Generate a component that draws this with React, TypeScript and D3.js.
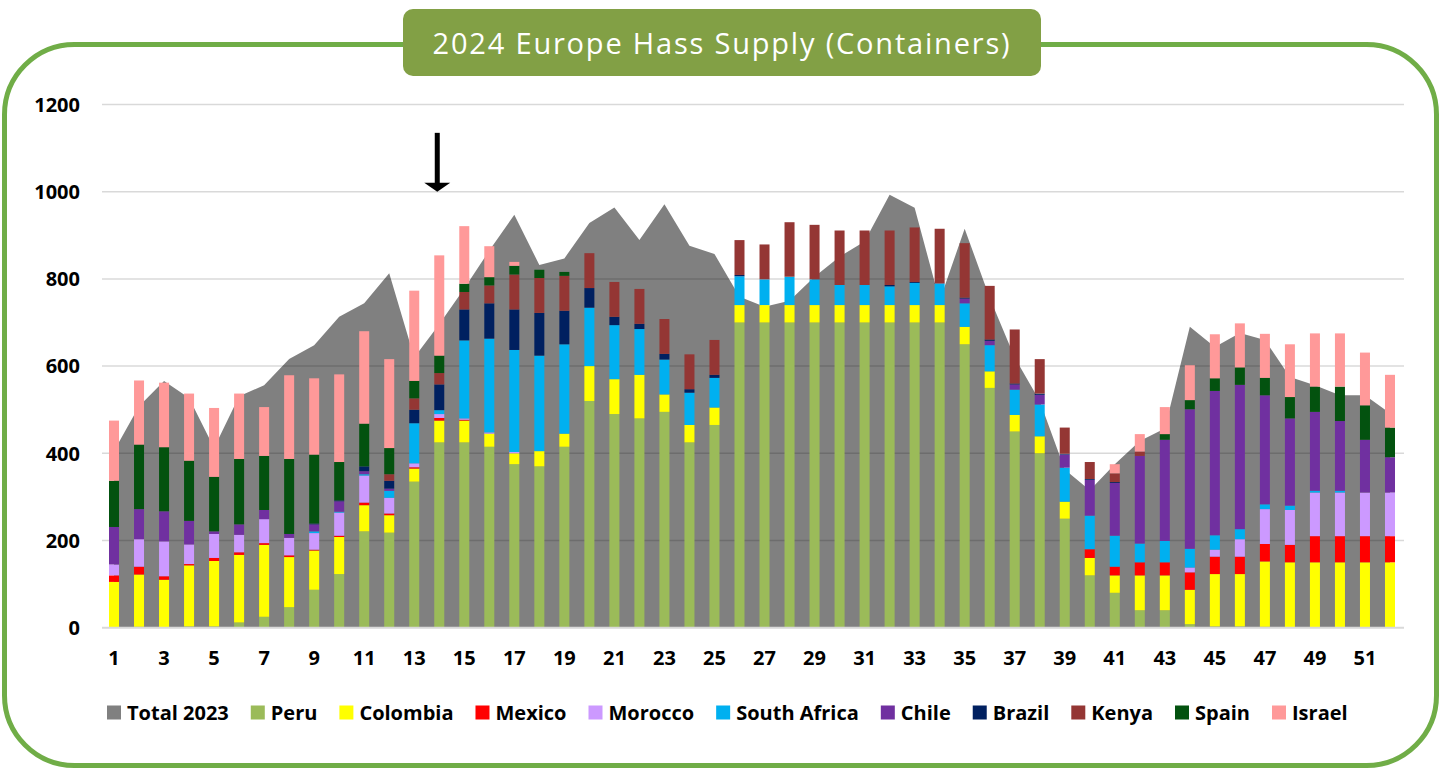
import React, { useRef, useEffect } from 'react';
import * as d3 from 'd3';

// weeks of the year
const weeks = [1, 2, 3, 4, 5, 6, 7, 8, 9, 10, 11, 12, 13, 14, 15, 16, 17, 18, 19, 20, 21, 22, 23, 24, 25, 26,
    27, 28, 29, 30, 31, 32, 33, 34, 35, 36, 37, 38, 39, 40, 41, 42, 43, 44, 45, 46, 47, 48, 49, 50, 51, 52];

// last year's total, drawn as the grey area
const total2023 = [405, 508, 566, 527, 412, 531, 556, 616, 648, 713, 744, 813, 620, 696, 778, 865, 947, 832, 847, 928,
    964, 889, 971, 876, 857, 759, 736, 750, 805, 851, 886, 993, 963, 750, 915, 757, 620, 520, 363, 315,
    375, 428, 457, 690, 644, 676, 660, 575, 556, 533, 533, 492];

// 2024 origins (containers per week)
const peru = [0, 2, 0, 3, 3, 12, 25, 47, 87, 123, 221, 218, 335, 425, 425, 415, 375, 370, 415, 520,
    490, 480, 495, 425, 465, 700, 700, 700, 700, 700, 700, 700, 700, 700, 650, 550, 450, 400, 250, 120,
    80, 40, 40, 8, 3, 3, 2, 0, 0, 0, 0, 0];
const colombia = [105, 120, 110, 140, 150, 155, 165, 115, 90, 85, 60, 40, 30, 50, 50, 30, 25, 35, 30, 80,
    80, 100, 40, 40, 40, 40, 40, 40, 40, 40, 40, 40, 40, 40, 40, 38, 38, 39, 39, 40,
    40, 80, 80, 79, 120, 120, 150, 150, 150, 150, 150, 150];
const mexico = [15, 18, 8, 3, 7, 6, 4, 4, 2, 3, 6, 4, 3, 6, 2, 0, 0, 0, 0, 0,
    0, 0, 0, 0, 0, 0, 0, 0, 0, 0, 0, 0, 0, 0, 0, 0, 0, 0, 0, 20,
    20, 30, 30, 40, 40, 40, 40, 40, 60, 60, 60, 60];
const morocco = [25, 63, 80, 45, 55, 40, 55, 40, 38, 53, 62, 36, 9, 9, 3, 3, 3, 0, 0, 0,
    0, 0, 0, 0, 0, 0, 0, 0, 0, 0, 0, 0, 0, 0, 0, 0, 0, 0, 0, 0,
    0, 0, 0, 11, 16, 40, 80, 80, 100, 100, 100, 100];
const southAfrica = [0, 0, 0, 0, 0, 0, 0, 0, 4, 2, 3, 16, 92, 9, 179, 215, 234, 219, 205, 134,
    124, 105, 80, 74, 68, 66, 59, 65, 59, 46, 46, 43, 51, 49, 54, 60, 58, 73, 78, 77,
    71, 43, 49, 43, 33, 23, 11, 10, 4, 4, 0, 0];
const chile = [86, 69, 69, 54, 6, 24, 21, 9, 16, 24, 7, 5, 0, 0, 0, 0, 0, 0, 0, 0,
    0, 0, 0, 0, 0, 0, 0, 0, 0, 0, 0, 0, 0, 0, 11, 10, 12, 22, 30, 82,
    121, 201, 232, 320, 331, 331, 250, 200, 181, 160, 121, 81];
const brazil = [0, 0, 0, 0, 0, 0, 0, 0, 2, 2, 11, 18, 31, 59, 71, 81, 93, 98, 77, 45,
    19, 12, 13, 8, 7, 3, 0, 0, 0, 0, 0, 3, 2, 1, 2, 3, 2, 3, 2, 2,
    2, 0, 0, 0, 0, 0, 0, 0, 0, 0, 0, 0];
const kenya = [0, 0, 0, 0, 0, 0, 0, 0, 0, 0, 0, 15, 26, 26, 40, 41, 80, 80, 80, 80,
    80, 80, 80, 80, 80, 80, 80, 125, 125, 125, 125, 125, 125, 125, 125, 123, 124, 79, 60, 39,
    20, 10, 0, 0, 0, 0, 0, 0, 0, 0, 0, 0];
const spain = [106, 148, 147, 138, 125, 150, 124, 172, 158, 88, 98, 60, 40, 40, 19, 19, 20, 19, 9, 0,
    0, 0, 0, 0, 0, 0, 0, 0, 0, 0, 0, 0, 0, 0, 0, 0, 0, 0, 0, 0,
    0, 0, 13, 21, 29, 40, 40, 49, 58, 79, 79, 68];
const israel = [138, 147, 148, 154, 158, 150, 112, 192, 175, 201, 212, 204, 207, 230, 132, 71, 9, 0, 0, 0,
    0, 0, 0, 0, 0, 0, 0, 0, 0, 0, 0, 0, 0, 0, 0, 0, 0, 0, 0, 0,
    21, 40, 62, 80, 101, 101, 101, 121, 122, 122, 121, 121];

const series = [
    { name: 'Peru', vals: peru },
    { name: 'Colombia', vals: colombia },
    { name: 'Mexico', vals: mexico },
    { name: 'Morocco', vals: morocco },
    { name: 'South Africa', vals: southAfrica },
    { name: 'Chile', vals: chile },
    { name: 'Brazil', vals: brazil },
    { name: 'Kenya', vals: kenya },
    { name: 'Spain', vals: spain },
    { name: 'Israel', vals: israel },
];
const series_colors = ['#9BBB59', '#FFFF00', '#FF0000', '#CC99FF', '#00B0F0', '#7030A0', '#002060', '#943634', '#03520F', '#FF9999'];
const total_color = '#808080';

const yTicks = [0, 200, 400, 600, 800, 1000, 1200];
const xTickWeeks = weeks.filter(w => w % 2 === 1);

// arrow marking the current week
const arrowWeek = 14;
const arrowFrom = 1135;
const arrowTo = 1000;

const title = '2024 Europe Hass Supply (Containers)';

export default function App() {
    const svg_ref = useRef<SVGSVGElement>(null);
    useEffect(() => draw(svg_ref.current), []);
    return (
        <svg ref={svg_ref} width={1442} height={770}
            style={{ position: 'absolute', left: 0, top: 0, fontFamily: '"Open Sans", sans-serif' }} />
    );
}

function draw(node: SVGSVGElement | null) {
    if (!node) return;
    const svg = d3.select(node);
    svg.selectAll('*').remove();

    const plot = { l: 100, r: 1404, t: 104.5, b: 627.7 };

    // frame
    svg.append('rect')
        .attr('x', 4.5).attr('y', 44.5)
        .attr('width', 1432).attr('height', 721)
        .attr('rx', 70)
        .attr('fill', '#fff')
        .attr('stroke', '#70AD47')
        .attr('stroke-width', 5);

    // title box
    svg.append('rect')
        .attr('x', 403).attr('y', 9)
        .attr('width', 638).attr('height', 67)
        .attr('rx', 10)
        .attr('fill', '#82A045');
    svg.append('text')
        .attr('x', 722).attr('y', 54)
        .attr('text-anchor', 'middle')
        .attr('fill', '#fff')
        .style('font-size', '29px')
        .style('letter-spacing', '1.8px')
        .text(title);

    const x = d3.scaleBand<number>()
        .domain(weeks)
        .range([plot.l, plot.r])
        .paddingInner(0.6)
        .paddingOuter(0.36);
    const cx = (w: number) => (x(w) as number) + x.bandwidth() / 2;

    const y = d3.scaleLinear()
        .domain([0, 1200])
        .range([plot.b, plot.t]);

    // total 2023 area
    const area = d3.area<number>()
        .x((d, i) => cx(weeks[i]))
        .y0(y(0))
        .y1(d => y(d));
    svg.append('path')
        .attr('d', area(total2023))
        .attr('fill', total_color);

    // gridlines
    svg.append('g')
        .selectAll('line')
        .data(yTicks.filter(t => t > 0))
        .join('line')
        .attr('x1', plot.l + 2).attr('x2', plot.r)
        .attr('y1', d => y(d)).attr('y2', d => y(d))
        .attr('stroke', 'rgba(0,0,0,0.15)')
        .attr('stroke-width', 1.5);

    // stacked bars
    const table = weeks.map((w, i) => {
        const row: any = { week: w };
        series.forEach(s => { row[s.name] = s.vals[i]; });
        return row;
    });
    const stack = d3.stack().keys(series.map(s => s.name))(table);
    const color = d3.scaleOrdinal<string>().domain(series.map(s => s.name)).range(series_colors);

    svg.append('g')
        .selectAll('g')
        .data(stack)
        .join('g')
        .attr('fill', d => color(d.key))
        .selectAll('rect')
        .data(d => d)
        .join('rect')
        .attr('x', d => x(d.data.week) as number)
        .attr('width', x.bandwidth())
        .attr('y', d => y(d[1]))
        .attr('height', d => Math.max(0, y(d[0]) - y(d[1])));

    // baseline
    svg.append('line')
        .attr('x1', plot.l + 2).attr('x2', plot.r)
        .attr('y1', y(0)).attr('y2', y(0))
        .attr('stroke', '#D9D9D9')
        .attr('stroke-width', 2);

    // y axis labels
    svg.append('g')
        .selectAll('text')
        .data(yTicks)
        .join('text')
        .attr('x', 80)
        .attr('y', d => y(d))
        .attr('dy', '0.36em')
        .attr('text-anchor', 'end')
        .style('font-size', '20px')
        .style('font-weight', 700)
        .text(d => d);

    // x axis labels
    svg.append('g')
        .selectAll('text')
        .data(xTickWeeks)
        .join('text')
        .attr('x', d => cx(d))
        .attr('y', 658)
        .attr('dy', '0.36em')
        .attr('text-anchor', 'middle')
        .style('font-size', '20px')
        .style('font-weight', 700)
        .text(d => d);

    // arrow
    const ax = cx(arrowWeek) - 2;
    svg.append('line')
        .attr('x1', ax).attr('x2', ax)
        .attr('y1', y(arrowFrom)).attr('y2', y(arrowTo) - 8)
        .attr('stroke', '#000')
        .attr('stroke-width', 5);
    svg.append('path')
        .attr('d', `M${ax - 13},${y(arrowTo) - 9}L${ax + 13},${y(arrowTo) - 9}L${ax},${y(arrowTo)}Z`)
        .attr('fill', '#000');

    // legend
    const legend_items = [{ name: 'Total 2023', color: total_color }]
        .concat(series.map((s, i) => ({ name: s.name, color: series_colors[i] })));
    const legend = svg.append('g').attr('transform', 'translate(0,712.5)');
    let lx = 107;
    legend_items.forEach(item => {
        const g = legend.append('g').attr('transform', `translate(${lx},0)`);
        g.append('rect')
            .attr('x', 0).attr('y', -7)
            .attr('width', 14).attr('height', 14)
            .attr('fill', item.color);
        const t = g.append('text')
            .attr('x', 20)
            .attr('dy', '0.36em')
            .style('font-size', '20px')
            .style('font-weight', 700)
            .text(item.name);
        const tw = (t.node() as SVGTextElement).getComputedTextLength();
        lx += 20 + tw + 22;
    });
}
